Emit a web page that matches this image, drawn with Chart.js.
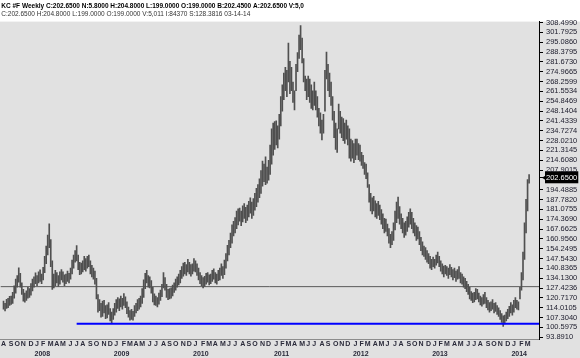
<!DOCTYPE html>
<html><head><meta charset="utf-8">
<script src="https://cdn.jsdelivr.net/npm/chart.js@4/dist/chart.umd.min.js"></script>
<style>html,body{margin:0;padding:0;background:#fff}canvas{display:block}</style>
</head><body>
<canvas id="c" width="580" height="358"></canvas>
<script>
// ---- data (weekly bars, first bar = Fri 3 Aug 2007, last = Fri 14 Mar 2014) ----
const firstWeek = [2007, 7, 3];
const lows = [
113.0,111.8,113.5,114.0,115.5,116.2,117.0,120.5,124.0,128.0,
131.5,128.0,123.0,118.5,117.8,119.0,120.5,121.0,122.5,125.5,
128.0,130.5,129.0,131.0,132.0,130.5,133.0,138.0,144.0,150.0,
155.0,142.0,126.5,127.5,129.0,131.0,128.5,130.0,133.0,131.5,
129.0,130.5,132.0,131.0,133.5,137.0,141.0,145.0,146.0,140.0,
136.5,137.0,138.5,140.0,139.0,141.0,142.0,137.0,135.0,133.5,
130.0,120.0,111.0,112.0,107.5,108.0,110.5,106.5,107.0,109.5,
105.0,103.2,106.0,109.0,111.0,113.5,112.0,114.5,113.0,115.5,
114.0,110.0,107.5,105.5,106.0,105.6,108.0,110.5,112.0,113.0,
114.5,117.0,121.0,127.0,131.0,128.0,127.5,124.0,118.0,116.0,
115.5,114.5,116.5,119.0,121.5,127.5,126.0,121.0,119.5,120.0,
120.5,122.0,124.5,126.0,128.0,129.5,131.0,134.0,135.5,137.0,
136.0,138.5,137.0,135.5,137.0,139.0,138.5,136.0,133.0,130.5,
129.0,127.5,128.5,130.0,131.5,129.5,130.5,132.0,133.5,131.0,
130.0,132.5,133.0,136.0,134.0,136.5,141.0,146.0,150.0,155.0,
158.0,163.0,165.0,168.0,170.5,173.0,170.0,172.5,175.0,172.0,
173.5,176.0,178.5,175.0,177.0,180.5,183.0,186.0,189.0,192.0,
197.0,200.0,198.0,199.0,201.0,205.0,212.0,218.0,222.0,225.0,
223.0,229.0,238.0,248.0,256.0,262.0,258.0,268.0,260.0,262.0,
254.0,249.0,262.0,275.0,284.0,290.0,281.0,268.0,262.0,256.0,
258.0,254.0,250.0,249.0,252.0,249.0,244.0,238.0,233.0,228.5,
233.0,248.0,270.0,262.0,258.0,252.0,242.0,230.0,222.0,220.0,
236.0,233.0,230.0,228.0,226.0,229.0,225.0,216.0,214.0,216.0,
213.0,215.0,218.0,215.0,214.0,211.0,209.0,205.0,202.0,196.0,
186.0,180.0,178.0,180.0,176.0,175.0,177.0,174.0,171.0,168.0,
165.0,166.0,163.0,158.0,155.0,157.0,160.0,167.0,172.0,175.0,
171.0,168.0,165.0,162.0,163.5,166.0,169.0,171.0,168.0,165.0,
163.0,160.0,161.0,157.0,153.0,150.0,149.0,147.0,145.0,144.0,
141.0,140.0,142.0,141.0,143.0,144.5,142.0,139.0,137.0,135.0,
137.0,136.0,134.0,136.5,135.0,133.0,134.5,132.0,133.5,134.0,
131.0,130.0,128.0,127.0,125.0,123.0,120.0,119.0,117.5,118.0,
119.5,120.0,118.0,116.0,115.0,116.5,117.0,114.0,112.5,111.0,
112.0,113.0,110.5,111.5,109.5,108.0,106.0,104.0,101.3,103.0,
105.0,106.5,108.0,110.5,109.0,111.0,114.0,113.0,112.5,120.0,
126.0,133.0,147.0,165.0,180.0,199.0
];
const highs = [
118.5,117.0,119.8,120.5,121.8,122.0,124.5,129.0,133.5,136.0,
141.2,137.5,131.0,126.5,124.0,125.5,128.0,127.0,130.5,133.5,
135.0,137.8,136.0,138.5,139.8,137.0,141.5,149.0,156.0,163.5,
171.2,160.5,146.0,137.0,139.5,138.0,136.0,138.5,140.0,138.5,
136.5,137.0,139.0,137.5,141.0,146.5,150.0,153.0,156.4,150.0,
145.0,144.5,146.0,149.0,147.5,149.0,150.0,146.0,143.0,141.0,
139.0,134.0,123.0,119.5,117.0,118.5,119.0,115.5,116.0,117.5,
113.5,111.0,113.5,117.0,119.5,121.0,120.0,122.0,120.5,123.7,
121.5,118.0,114.5,112.0,113.0,111.5,115.5,117.0,119.5,120.5,
122.0,127.0,133.0,137.5,139.5,136.0,135.0,132.5,128.0,123.5,
122.0,121.0,124.0,126.0,130.0,138.0,134.5,130.0,126.5,127.0,
127.5,129.5,131.0,133.5,135.0,137.0,139.5,142.0,144.5,145.0,
143.5,147.0,145.0,143.5,144.0,147.5,146.0,144.0,141.0,138.0,
136.0,134.5,135.5,137.5,138.0,136.5,137.0,139.5,140.5,138.0,
137.0,139.5,141.0,144.0,142.0,146.5,151.0,156.5,160.0,165.0,
170.5,173.0,175.5,180.0,181.5,182.0,180.0,183.5,185.0,182.5,
184.0,186.5,189.0,186.0,188.5,192.0,195.5,198.0,202.0,207.5,
214.0,212.0,217.0,210.0,214.5,225.0,236.0,240.0,241.0,241.5,
238.0,246.0,258.0,266.0,274.0,278.0,276.0,294.5,282.0,278.0,
268.0,262.0,280.0,288.0,300.0,306.5,298.0,284.0,272.0,270.0,
272.0,270.0,266.0,262.0,268.0,262.0,258.0,250.0,247.0,242.0,
246.0,276.0,288.4,280.0,274.0,268.0,258.0,248.0,240.0,236.0,
253.0,248.0,244.0,243.0,240.0,242.0,238.0,236.0,229.0,228.0,
226.0,229.0,229.0,226.0,225.0,220.0,218.0,213.0,212.0,206.0,
198.0,192.0,189.0,190.0,187.0,185.0,186.5,184.0,181.0,178.0,
175.0,174.5,171.0,168.0,164.0,166.0,172.0,180.0,186.0,189.5,
183.0,178.0,175.0,172.0,173.0,176.0,179.0,181.5,179.0,175.0,
172.0,170.0,169.0,166.0,162.0,159.0,156.0,155.0,153.0,151.0,
149.0,147.0,148.5,147.0,150.0,152.0,149.0,146.0,144.0,142.5,
143.0,142.0,141.0,143.5,141.5,140.0,141.0,139.0,140.0,142.0,
138.0,137.0,135.0,134.0,132.0,130.0,128.0,125.0,124.0,124.5,
127.0,126.5,124.0,122.0,121.0,123.0,124.5,121.0,119.0,117.5,
118.0,119.5,117.0,117.5,115.5,114.0,112.0,110.0,108.5,109.0,
111.0,113.0,115.0,117.5,116.0,119.0,121.0,119.0,118.0,128.0,
138.0,152.0,172.0,188.0,201.5,204.8
];
const yTickLabels = ["93.8910","100.5975","107.3040","114.0105","120.7170","127.4236","134.1300",
 "140.8365","147.5430","154.2495","160.9560","167.6625","174.3690","181.0755","187.7820","194.4885",
 "207.9015","214.6080","221.3145","228.0210","234.7274","241.4339","248.1404","254.8469","261.5534",
 "268.2599","274.9665","281.6730","288.3795","295.0860","301.7925","308.4990"];
const lastClose = 202.65;
const lastCloseLabel = "202.6500";
const settleLevel = 128.3816;
const supportLevel = 103.0;
const supportStartWeek = 48;
const monthLetters = ["J","F","M","A","M","J","J","A","S","O","N","D"];
const headerLine1 = "KC #F Weekly C:202.6500 N:5.8000 H:204.8000 L:199.0000 O:199.0000 B:202.4500 A:202.6500 V:5,0";
const headerLine2 = "C:202.6500 H:204.8000 L:199.0000 O:199.0000 V:5,011 I:84370 S:128.3816 03-14-14";

// ---- derived axis ticks ----
const xMin = -2, xMax = 351.5;
const yMin = 92.54, yMax = 309.18;
const monthTicks = [], yearTicks = [];
let prevMonth = -1;
for (let i = 0; i < highs.length; i++) {
  const d = new Date(firstWeek[0], firstWeek[1], firstWeek[2] + 7 * i);
  const m = d.getMonth();
  if (m !== prevMonth) {
    monthTicks.push({ value: i, label: monthLetters[m] });
    if (m === 0) yearTicks.push({ value: i + 3.5, label: String(d.getFullYear()) });
  }
  prevMonth = m;
}
const yTicks = yTickLabels.map(s => ({ value: parseFloat(s), label: s }));
yTicks.push({ value: lastClose, label: lastCloseLabel, box: true });
yTicks.sort((a, b) => a.value - b.value);

const FONT = "'Liberation Sans', Arial, sans-serif";

const bgPlugin = {
  id: 'bg',
  beforeDraw(chart) {
    const { ctx, width, height, chartArea } = chart;
    ctx.save();
    ctx.fillStyle = '#ffffff';
    ctx.fillRect(0, 0, width, height);
    ctx.fillStyle = '#e1e1e1';
    ctx.fillRect(0, chartArea.top, width, height - chartArea.top);
    ctx.restore();
  },
  afterDraw(chart) {
    const { ctx, chartArea } = chart;
    const y = chart.scales.y.getPixelForValue(lastClose);
    const x = chartArea.right + 3;
    ctx.save();
    ctx.fillStyle = '#000';
    ctx.beginPath();
    ctx.moveTo(x, y);
    ctx.lineTo(x + 4, y - 2.5);
    ctx.lineTo(x + 4, y + 2.5);
    ctx.closePath();
    ctx.fill();
    ctx.fillRect(x + 4, y - 0.5, 2, 1);
    ctx.restore();
  }
};

new Chart(document.getElementById('c'), {
  type: 'bar',
  data: {
    datasets: [
      {
        type: 'bar',
        data: highs.map((h, i) => ({ x: i, y: [lows[i], h] })),
        backgroundColor: '#505050',
        borderWidth: 0,
        barThickness: 1,
        order: 1
      },
      {
        type: 'line',
        data: [{ x: xMin, y: settleLevel }, { x: xMax, y: settleLevel }],
        borderColor: '#5a5a5a',
        borderWidth: 1,
        pointRadius: 0,
        order: 2
      },
      {
        type: 'line',
        data: [{ x: supportStartWeek, y: supportLevel }, { x: xMax, y: supportLevel }],
        borderColor: '#0000ff',
        borderWidth: 2,
        pointRadius: 0,
        order: 0
      }
    ]
  },
  options: {
    responsive: false,
    animation: false,
    devicePixelRatio: 1,
    events: [],
    layout: { padding: 0 },
    plugins: {
      legend: { display: false },
      tooltip: { enabled: false },
      title: {
        display: true, text: '\u2009' + headerLine1, align: 'start', color: '#000',
        font: { family: FONT, size: 6.5, weight: 'bold' }, padding: { top: 2, bottom: 1 }
      },
      subtitle: {
        display: true, text: '\u2009' + headerLine2, align: 'start', color: '#333',
        font: { family: FONT, size: 6.5 }, padding: { top: 0, bottom: 3 }
      }
    },
    scales: {
      x: {
        display: true, type: 'linear', position: 'bottom', weight: 0, min: xMin, max: xMax, offset: false,
        grid: { display: false, drawTicks: false, offset: false },
        border: { display: true, color: '#8c8c8c' },
        afterBuildTicks: s => { s.ticks = monthTicks.map(t => ({ value: t.value })); },
        ticks: {
          display: true, autoSkip: false, maxRotation: 0, minRotation: 0, padding: 1, color: '#2a2a3a',
          font: { family: FONT, size: 7, weight: 'bold' },
          callback: (v, i) => monthTicks[i] ? monthTicks[i].label : ''
        }
      },
      x2: {
        display: true, type: 'linear', axis: 'x', position: 'bottom', weight: 1, min: xMin, max: xMax, offset: false,
        grid: { display: false, drawTicks: false, offset: false },
        border: { display: false },
        afterBuildTicks: s => { s.ticks = yearTicks.map(t => ({ value: t.value })); },
        ticks: {
          display: true, autoSkip: false, maxRotation: 0, minRotation: 0, padding: 0, color: '#2a2a3a',
          font: { family: FONT, size: 7, weight: 'bold' },
          callback: (v, i) => yearTicks[i] ? yearTicks[i].label : ''
        }
      },
      y: {
        type: 'linear', position: 'right', min: yMin, max: yMax,
        grid: { drawOnChartArea: false, drawTicks: true, tickLength: 4, color: '#000' },
        border: { display: true, color: '#000' },
        afterBuildTicks: s => { s.ticks = yTicks.map(t => ({ value: t.value })); },
        afterFit: s => { s.width = 41; },
        ticks: {
          autoSkip: false, padding: 3,
          font: { family: FONT, size: 7.5 },
          color: ctx => (yTicks[ctx.index] && yTicks[ctx.index].box) ? '#ffffff' : '#1c1c2c',
          showLabelBackdrop: ctx => !!(yTicks[ctx.index] && yTicks[ctx.index].box),
          backdropColor: '#000000',
          backdropPadding: { top: 2, bottom: 1, left: 1, right: 1 },
          callback: (v, i) => yTicks[i] ? yTicks[i].label : ''
        }
      }
    }
  },
  plugins: [bgPlugin]
});
</script>
</body></html>
